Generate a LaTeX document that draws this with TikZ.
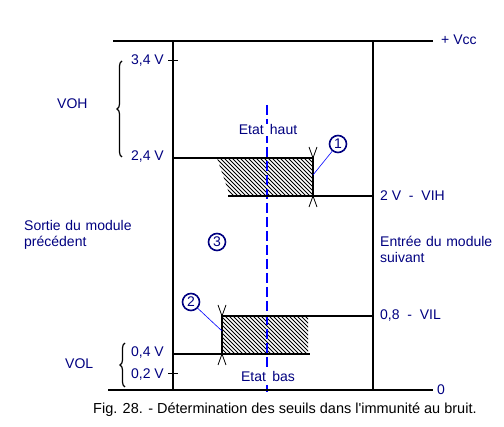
\documentclass[tikz,border=0pt]{standalone}
\usepackage{fontspec}
\setmainfont{Liberation Sans}
\usetikzlibrary{decorations.pathreplacing}
\definecolor{navy}{RGB}{0,0,128}
\definecolor{dashblue}{RGB}{0,0,255}
\begin{document}
\begin{tikzpicture}[x=1pt,y=-1pt,
  lbl/.style={text=navy,font=\fontsize{14}{16}\selectfont,inner sep=0pt},
  captext/.style={text=black,font=\fontsize{14.5}{16}\selectfont,inner sep=0pt},
  rail/.style={line width=2pt,black},
  tickline/.style={line width=1pt,black},
  tipmark/.style={line width=0.8pt,black},
  hatchline/.style={line width=1pt,black},
  num/.style={circle,draw=navy,line width=1.6pt,text=navy,minimum size=17pt,inner sep=0pt,font=\fontsize{14}{16}\selectfont},
  leader/.style={draw=dashblue,line width=0.6pt},
  axisdash/.style={color=dashblue,line width=1.3pt,dash pattern=on 10pt off 4pt},
  brc/.style={decorate,decoration={brace,amplitude=5pt},line width=1.2pt}]
\useasboundingbox (0,0) rectangle (504,427);
% rails
\coordinate (tl) at (113,41);
\coordinate (tr) at (433,41);
\coordinate (bl) at (108,390);
\coordinate (br) at (433,390);
\coordinate (lt) at (173,41);
\coordinate (lb) at (173,390);
\coordinate (rt) at (373,41);
\coordinate (rb) at (373,390);
% hatched zones
\begin{scope}
  \clip (217,158) -- (313,158) -- (313,196) -- (230,196) -- cycle;
  \foreach \i in {-60,-56,...,130} {\draw[hatchline] (200+\i,150) -- (260+\i,210);}
\end{scope}
\begin{scope}
  \clip (222,316) rectangle (308,354);
  \foreach \i in {-60,-56,...,110} {\draw[hatchline] (205+\i,308) -- (265+\i,368);}
\end{scope}
% dashed axis
\coordinate (dt) at (267,105);
\coordinate (db) at (267,392);
\draw[axisdash] (dt) -- (db);
% main lines
\draw[rail] (tl) -- (tr);
\draw[rail] (bl) -- (br);
\draw[rail] (lt) -- (lb);
\draw[rail] (rt) -- (rb);
% high zone
\coordinate (h1) at (173,158);
\coordinate (h2) at (313,158);
\coordinate (h3) at (313,196);
\coordinate (h4) at (228,196);
\coordinate (h5) at (373,196);
\draw[rail] (h1) -- (h2) -- (h3);
\draw[rail] (h4) -- (h5);
\draw[tipmark] (309,147) -- (h2) -- (317,147);
\draw[tipmark] (309,207) -- (h3) -- (317,207);
% low zone
\coordinate (l1) at (222,316);
\coordinate (l2) at (373,316);
\coordinate (l3) at (222,354);
\coordinate (l4) at (173,354);
\coordinate (l5) at (310,354);
\draw[rail] (l2) -- (l1) -- (l3);
\draw[rail] (l4) -- (l5);
\draw[tipmark] (218,305) -- (l1) -- (226,305);
\draw[tipmark] (218,365) -- (l3) -- (226,365);
% ticks
\draw[tickline] (168,61) -- (178,61);
\draw[tickline] (168,374) -- (178,374);
% left labels
\node[lbl,anchor=east] (v34) at (164,61) {3,4 V};
\node[lbl,anchor=east] (v24) at (164,157) {2,4 V};
\node[lbl,anchor=east] (v04) at (164,353) {0,4 V};
\node[lbl,anchor=east] (v02) at (164,375) {0,2 V};
\draw[brc] (122,157) -- (122,61);
\draw[brc] (125,387) -- (125,343);
\node[lbl,anchor=west] (voh) at (57,104) {VOH};
\node[lbl,anchor=west] (vol) at (65,364) {VOL};
\node[lbl,anchor=west,align=left,text width=130pt] (sortie) at (24,235) {Sortie du module\\précédent};
% right labels
\node[lbl,anchor=west] (vcc) at (441,40) {+ Vcc};
\node[lbl,anchor=west] (zero) at (437,390) {0};
\node[lbl,anchor=west] (vih) at (380,196) {2 V \ - \ VIH};
\node[lbl,anchor=west] (vil) at (380,316) {0,8 \ - \ VIL};
\node[lbl,anchor=west,align=left,text width=130pt] (entree) at (380,249) {Entrée du module\\suivant};
% state labels
\node[lbl,fill=white,inner sep=1pt] (haut) at (268,130) {Etat\ \,haut};
\node[lbl,fill=white,inner sep=1pt] (bas) at (268,376) {Etat\ \,bas};
% numbered circles
\node[num] (c1) at (338,144) {1};
\node[num] (c2) at (191,302) {2};
\node[num] (c3) at (217,242) {3};
\coordinate (m1) at (313,175);
\coordinate (m2) at (222,331);
\draw[leader] (c1) -- (m1);
\draw[leader] (c2) -- (m2);
% caption
\node[captext,anchor=west] (caption) at (93,410) {Fig. 28. - Détermination des seuils dans l\textquotesingle immunité au bruit.};
\end{tikzpicture}
\end{document}
